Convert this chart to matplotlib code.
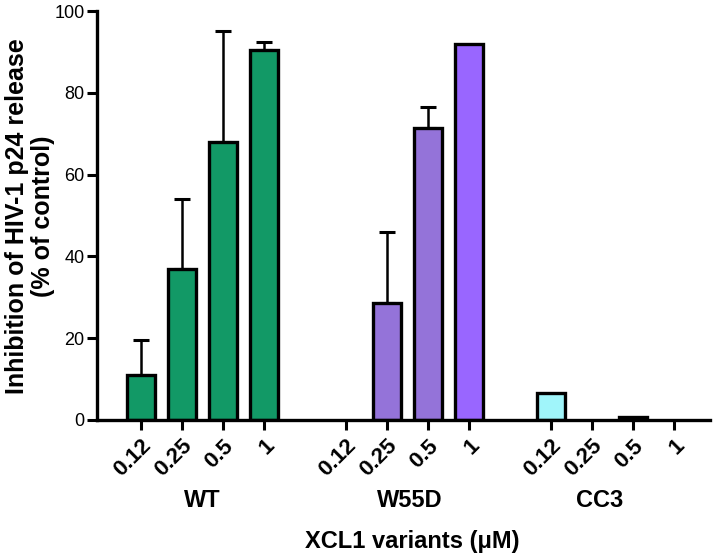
import matplotlib.pyplot as plt
import numpy as np

plt.rcParams["font.family"] = ["Liberation Sans", "DejaVu Sans"]

groups = ["WT", "W55D", "CC3"]
group_label_x = [1.5, 6.55, 11.2]
doses = ["0.12", "0.25", "0.5", "1"]
wt_mean = [11, 37, 68, 90.5]
wt_upper = [19.5, 54, 95, 92.5]
w55d_mean = [0, 28.5, 71.5, 92]
w55d_upper = [None, 46, 76.5, None]
cc3_mean = [6.5, 0, 0.8, 0]
cc3_upper = [None, None, None, None]

colors = {
    "WT": ["#129966"] * 4,
    "W55D": ["#9473d9", "#9473d9", "#9473d9", "#9966ff"],
    "CC3": ["#a0f5fa"] * 4,
}

fig = plt.figure(figsize=(7.16, 5.58), dpi=100)
ax = fig.add_axes([97 / 716, 138 / 558, 613 / 716, 409 / 558])

means = [wt_mean, w55d_mean, cc3_mean]
uppers = [wt_upper, w55d_upper, cc3_upper]
tick_pos = []
tick_lab = []
for g, (name, m, u) in enumerate(zip(groups, means, uppers)):
    x = np.arange(4) + g * 5
    for xi, mi, ui, c in zip(x, m, u, colors[name]):
        if mi > 0:
            ax.bar(xi, mi, width=0.68, color=c, edgecolor="black",
                   linewidth=2.4, zorder=2)
        if ui is not None:
            ax.errorbar(xi, mi, yerr=[[0], [ui - mi]], fmt="none",
                        ecolor="black", elinewidth=1.8, capsize=5.5,
                        capthick=2.2, zorder=1)
    tick_pos.extend(x)
    tick_lab.extend(doses)
    # group name under the dose labels
    ax.text(group_label_x[g], -0.196, name, transform=ax.get_xaxis_transform(),
            ha="center", va="center", fontsize=17, fontweight="bold")

ax.set_xlim(-1.07, 13.88)
ax.set_ylim(0, 100)
ax.set_xticks(tick_pos)
ax.set_xticklabels(tick_lab, rotation=45, ha="right", rotation_mode="anchor",
                   fontsize=16, fontweight="bold")
ax.set_yticks([0, 20, 40, 60, 80, 100])
ax.tick_params(axis="y", labelsize=13, length=7, width=2.2, pad=2)
ax.tick_params(axis="x", length=7, width=2.2, pad=4)

for s in ["top", "right"]:
    ax.spines[s].set_visible(False)
for s in ["left", "bottom"]:
    ax.spines[s].set_linewidth(2.4)

fig.text(30 / 716, 1 - 216 / 558,
         "Inhibition of HIV-1 p24 release\n(% of control)",
         rotation=90, ha="center", va="center", multialignment="center",
         fontsize=18, fontweight="bold", linespacing=1.1)
ax.set_xlabel("XCL1 variants (μM)", fontsize=17, fontweight="bold")
ax.xaxis.set_label_coords(0.514, -0.269)

plt.savefig("out.png", dpi=100)
